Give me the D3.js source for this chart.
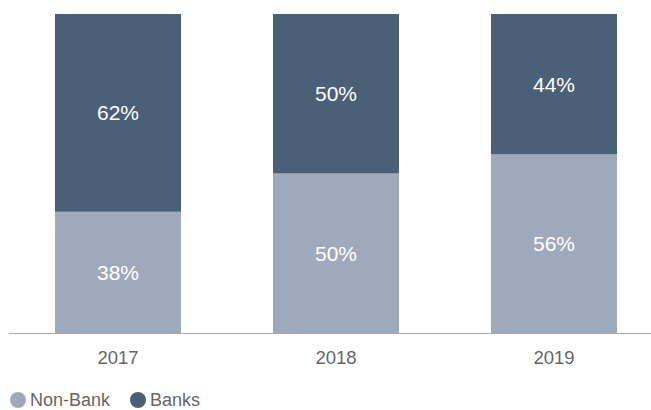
<!DOCTYPE html>
<html>
<head>
<meta charset="utf-8">
<script src="https://cdn.jsdelivr.net/npm/d3@7"></script>
<style>
  body { margin: 0; background: #fff; }
  svg text { font-family: "Liberation Sans", Arial, sans-serif; }
</style>
</head>
<body>
<svg id="chart"></svg>
<script>
const years = ["2017", "2018", "2019"];
const nonBank = [38, 50, 56];
const banks = [62, 50, 44];
const seriesNames = ["Non-Bank", "Banks"];
const colors = ["#9eaabb", "#4a6077"];

const WIDTH = 651, HEIGHT = 410;

const svg = d3.select("svg#chart")
    .attr("width", WIDTH)
    .attr("height", HEIGHT);

const x = d3.scaleBand()
    .domain(years)
    .range([9, 663])
    .paddingInner(0.422)
    .paddingOuter(0.211);

const y = d3.scaleLinear()
    .domain([0, 100])
    .range([333, 14]);

const rows = years.map((yr, i) => ({ year: yr, "Non-Bank": nonBank[i], "Banks": banks[i] }));
const stacked = d3.stack().keys(seriesNames)(rows);

const layers = svg.append("g")
    .selectAll("g")
    .data(stacked)
    .join("g")
    .attr("fill", (d, i) => colors[i]);

layers.selectAll("rect")
    .data(d => d)
    .join("rect")
    .attr("x", d => x(d.data.year))
    .attr("y", d => y(d[1]))
    .attr("width", x.bandwidth())
    .attr("height", d => y(d[0]) - y(d[1]));

layers.selectAll("text")
    .data(d => d)
    .join("text")
    .attr("x", d => x(d.data.year) + x.bandwidth() / 2)
    .attr("y", d => (y(d[0]) + y(d[1])) / 2)
    .attr("dy", "0.36em")
    .attr("text-anchor", "middle")
    .attr("fill", "#fff")
    .style("font-size", "21px")
    .text(d => `${d[1] - d[0]}%`);

// baseline
svg.append("line")
    .attr("x1", 9).attr("x2", 651)
    .attr("y1", 333.5).attr("y2", 333.5)
    .attr("stroke", "#aaa")
    .attr("stroke-width", 1);

const xAxis = svg.append("g")
    .attr("transform", "translate(0,333)")
    .call(d3.axisBottom(x).tickSize(0).tickPadding(18));
xAxis.select(".domain").remove();
xAxis.selectAll("text")
    .attr("fill", "#666")
    .style("font-size", "18.5px")
    .style("font-family", "Liberation Sans, Arial, sans-serif");

// legend
const legend = svg.append("g").attr("transform", "translate(0,400)");
const legendX = [18, 138];
seriesNames.forEach((name, i) => {
    legend.append("circle")
        .attr("cx", legendX[i])
        .attr("cy", 0)
        .attr("r", 8)
        .attr("fill", colors[i]);
    legend.append("text")
        .attr("x", legendX[i] + 12)
        .attr("y", 0)
        .attr("dy", "0.35em")
        .attr("fill", "#666")
        .style("font-size", "18px")
        .text(name);
});
</script>
</body>
</html>
